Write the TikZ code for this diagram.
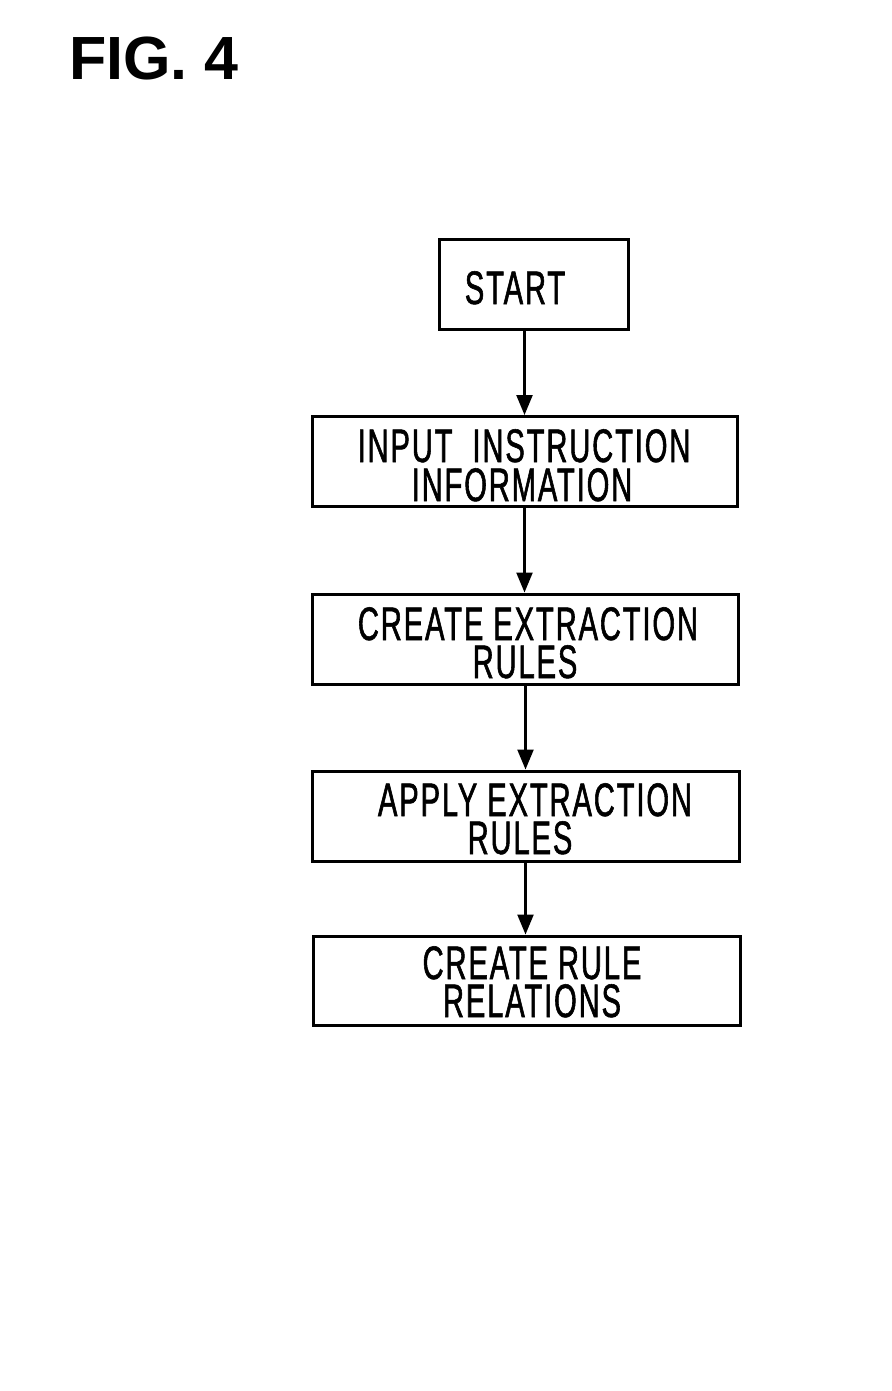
\documentclass[tikz,border=0pt]{standalone}
\usepackage{fontspec}
\setmainfont{Liberation Sans}
\newfontfamily\narrowfont[FakeStretch=0.62,FakeBold=1.2,LetterSpace=4]{Liberation Sans}
\usetikzlibrary{arrows.meta}
\begin{document}
\begin{tikzpicture}[x=1pt,y=-1pt,
  box/.style={draw,line width=3pt,minimum width=#1,inner sep=0pt},
  boxh/.style={minimum height=90pt},
  lbl/.style={font=\narrowfont\fontsize{47}{39}\selectfont,inner sep=0pt,text height=34pt,text depth=0pt},
  arr/.style={line width=2.4pt,-{Triangle[length=20pt,width=16pt]}}]
\useasboundingbox (0,0) rectangle (891,1391);
\node[font=\bfseries\fontsize{61}{61}\selectfont,anchor=base west,inner sep=0pt] (fig) at (69,80) {FIG. 4};
\node[box=189pt,boxh] (s) at (533.5,284) {};
\node[lbl] (st) at (515,287) {START};
\node[box=425pt,boxh] (a) at (524.5,461.5) {};
\node[lbl] (at1) at (524,445) {INPUT\ \ INSTRUCTION};
\node[lbl] (at2) at (522,484) {INFORMATION};
\node[box=426pt,boxh] (b) at (525,639) {};
\node[lbl] (bt1) at (528,623) {CREATE EXTRACTION};
\node[lbl] (bt2) at (525,661) {RULES};
\node[box=427pt,boxh] (c) at (525.5,816) {};
\node[lbl] (ct1) at (535,799) {APPLY EXTRACTION};
\node[lbl] (ct2) at (520,837) {RULES};
\node[box=427pt,minimum height=89pt] (d) at (526.5,980.5) {};
\node[lbl] (dt1) at (532,962) {CREATE RULE};
\node[lbl] (dt2) at (532,1000) {RELATIONS};
\draw[arr] (a.north |- s.south) -- (a.north);
\draw[arr] (a.south) -- (a.south |- b.north);
\draw[arr] (c.north |- b.south) -- (c.north);
\draw[arr] (c.south) -- (c.south |- d.north);
\end{tikzpicture}
\end{document}
